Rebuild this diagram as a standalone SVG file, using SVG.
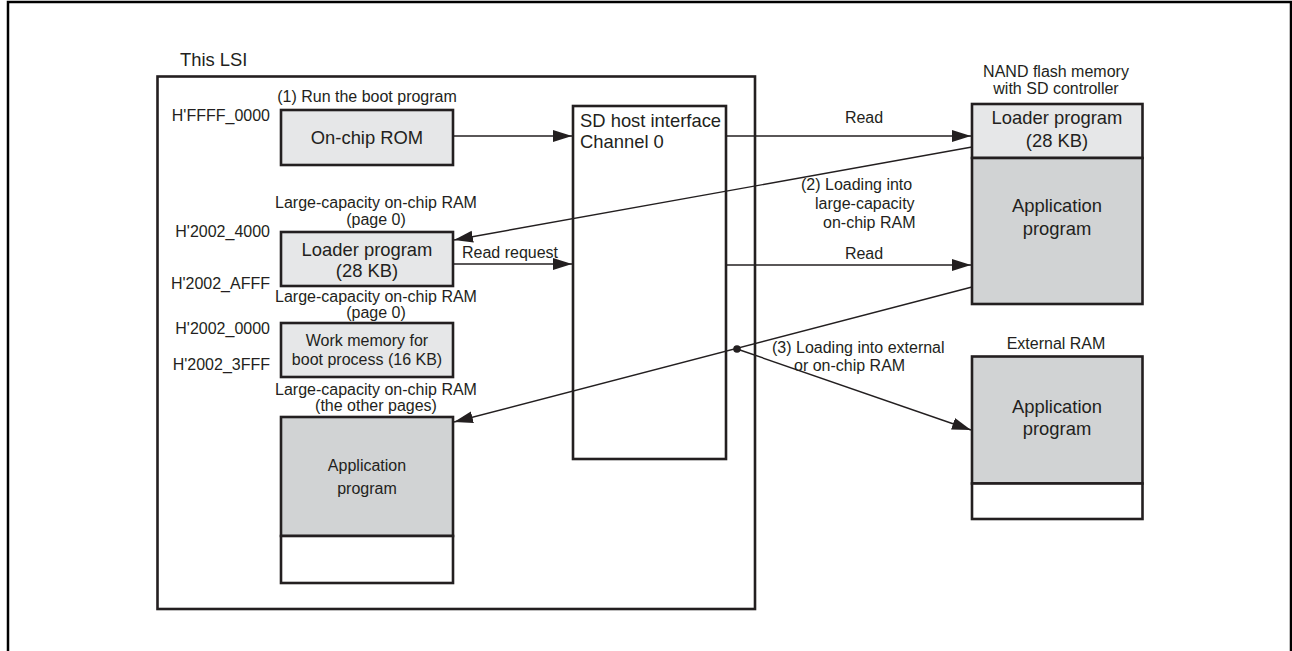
<svg xmlns="http://www.w3.org/2000/svg" width="1292" height="651" viewBox="0 0 1292 651">
<defs>
<marker id="ah" markerUnits="userSpaceOnUse" markerWidth="20" markerHeight="13" refX="19" refY="6" orient="auto">
<path d="M0,0 L19,6 L0,12 z" fill="#231f20"/>
</marker>
<style>
text{font-family:"Liberation Sans",Arial,sans-serif;fill:#231f20}
.s{font-size:16px}
.b{font-size:18.4px}
.c{text-anchor:middle}
.e{text-anchor:end}
.box{stroke:#231f20;stroke-width:2.6}
.l1{fill:#e6e7e8}
.l2{fill:#d1d3d4}
.w{fill:#ffffff}
.cn{stroke:#231f20;stroke-width:1.4;fill:none}
</style>
</defs>
<rect width="1292" height="651" fill="#ffffff"/>
<path d="M8,651 V2 H1291 V651" fill="none" stroke="#000" stroke-width="2.5"/>

<g id="lsi">
<text class="b" x="180" y="66">This LSI</text>
<rect class="box w" x="157.5" y="76.5" width="597.5" height="532.5"/>
</g>

<g id="rom">
<text class="s c" x="367" y="102">(1) Run the boot program</text>
<text class="s e" x="270" y="121">H'FFFF_0000</text>
<rect class="box l1" x="281" y="110" width="172" height="55"/>
<text class="b c" x="367" y="144">On-chip ROM</text>
</g>

<g id="loader-ram">
<text class="s c" x="376" y="208">Large-capacity on-chip RAM</text>
<text class="s c" x="376" y="225">(page 0)</text>
<text class="s e" x="270" y="237">H'2002_4000</text>
<rect class="box l1" x="281" y="232" width="172" height="54"/>
<text class="b c" x="367" y="256">Loader program</text>
<text class="b c" x="367" y="277">(28 KB)</text>
<text class="s e" x="270" y="289">H'2002_AFFF</text>
</g>

<g id="work-ram">
<text class="s c" x="376" y="302">Large-capacity on-chip RAM</text>
<text class="s c" x="376" y="318">(page 0)</text>
<text class="s e" x="270" y="334">H'2002_0000</text>
<rect class="box l1" x="281" y="323" width="172" height="54"/>
<text class="s c" x="367" y="346">Work memory for</text>
<text class="s c" x="367" y="365">boot process (16 KB)</text>
<text class="s e" x="270" y="370">H'2002_3FFF</text>
</g>

<g id="app-ram">
<text class="s c" x="376" y="395">Large-capacity on-chip RAM</text>
<text class="s c" x="376" y="411">(the other pages)</text>
<rect class="box l2" x="281" y="417" width="172" height="119"/>
<rect class="box w" x="281" y="536" width="172" height="47"/>
<text class="s c" x="367" y="471">Application</text>
<text class="s c" x="367" y="494">program</text>
</g>

<g id="sdhi">
<rect class="box w" x="573" y="106" width="153" height="353"/>
<text class="b" x="580" y="127">SD host interface</text>
<text class="b" x="580" y="148">Channel 0</text>
</g>

<g id="nand">
<text class="s c" x="1056" y="77">NAND flash memory</text>
<text class="s c" x="1056" y="94">with SD controller</text>
<rect class="box l1" x="972" y="104" width="170.5" height="54"/>
<rect class="box l2" x="972" y="158" width="170.5" height="146"/>
<text class="b c" x="1057" y="124">Loader program</text>
<text class="b c" x="1057" y="147">(28 KB)</text>
<text class="b c" x="1057" y="212">Application</text>
<text class="b c" x="1057" y="235">program</text>
</g>

<g id="ext-ram">
<text class="s c" x="1056" y="349">External RAM</text>
<rect class="box l2" x="972" y="356.5" width="170.5" height="127"/>
<rect class="box w" x="972" y="483.5" width="170.5" height="35.5"/>
<text class="b c" x="1057" y="413">Application</text>
<text class="b c" x="1057" y="435">program</text>
</g>

<g id="connectors">
<line class="cn" x1="453" y1="136" x2="572" y2="136" marker-end="url(#ah)"/>
<line class="cn" x1="726" y1="136" x2="971" y2="136" marker-end="url(#ah)"/>
<line class="cn" x1="972" y1="147" x2="454" y2="240" marker-end="url(#ah)"/>
<line class="cn" x1="453" y1="264" x2="572" y2="264" marker-end="url(#ah)"/>
<line class="cn" x1="726" y1="265" x2="971" y2="265" marker-end="url(#ah)"/>
<line class="cn" x1="972" y1="287" x2="454" y2="422" marker-end="url(#ah)"/>
<line class="cn" x1="737" y1="349" x2="971" y2="430" marker-end="url(#ah)"/>
<circle cx="737" cy="349" r="3.8" fill="#231f20"/>
<text class="s c" x="864" y="123">Read</text>
<text class="s c" x="864" y="259">Read</text>
<text class="s" x="462" y="258">Read request</text>
<text class="s" x="801" y="190">(2) Loading into</text>
<text class="s" x="815" y="209">large-capacity</text>
<text class="s" x="823" y="228">on-chip RAM</text>
<text class="s" x="772" y="353">(3) Loading into external</text>
<text class="s" x="794" y="371">or on-chip RAM</text>
</g>
</svg>
